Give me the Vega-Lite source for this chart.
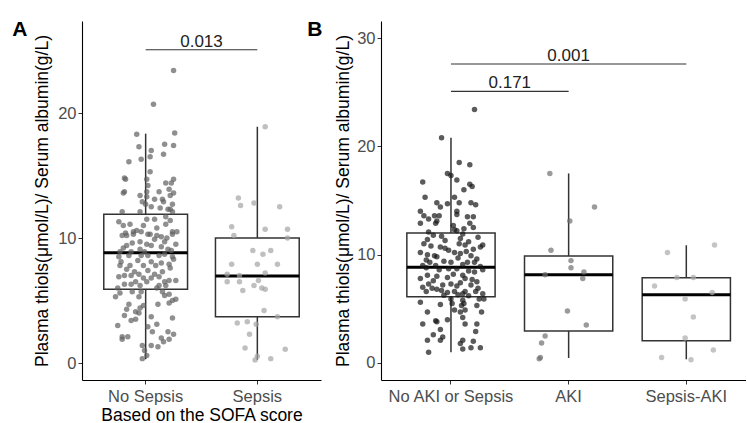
{
  "$schema": "https://vega.github.io/schema/vega-lite/v6.json",
  "padding": {"left": 12, "top": 19, "right": 0, "bottom": 0},
  "spacing": 60,
  "bounds": "flush",
  "config": {
    "view": {"stroke": null},
    "font": "Liberation Sans",
    "axis": {"grid": false, "domainColor": "#000000", "domainWidth": 1.1, "tickColor": "#333333", "tickSize": 4, "labelColor": "#4d4d4d", "labelFont": "Liberation Sans", "labelFontSize": 16.5, "labelPadding": 2, "titleFont": "Liberation Sans", "titleFontSize": 17.5, "titleFontWeight": "normal", "titleColor": "#000000"}
  },
  "resolve": {"scale": {"x": "independent", "y": "independent", "color": "independent", "xOffset": "independent"}},
  "hconcat": [
    {
      "width": 239,
      "height": 359,
      "title": {"text": "A", "orient": "left", "anchor": "end", "angle": 0, "align": "right", "baseline": "top", "offset": -9, "dy": -2, "frame": "group", "fontSize": 21, "fontWeight": "bold", "font": "Liberation Sans", "color": "#000000"},
      "resolve": {"scale": {"xOffset": "independent"}},
      "layer": [
        {
          "data": {"values": [
            {"group": "No Sepsis", "lower": 0.3, "q1": 5.9, "median": 8.83, "q3": 11.9, "upper": 18.35},
            {"group": "Sepsis", "lower": 0.25, "q1": 3.7, "median": 6.96, "q3": 10.0, "upper": 18.9}
          ]},
          "layer": [
            {
              "mark": {"type": "rule", "color": "#333333", "strokeWidth": 1.5},
              "encoding": {
                "x": {"field": "group", "type": "nominal", "title": "Based on the SOFA score", "scale": {"type": "band", "domain": ["No Sepsis", "Sepsis"], "paddingInner": 0.25, "paddingOuter": 0.195, "align": 0.5}, "axis": {"labelAngle": 0, "titlePadding": 2, "labelPadding": 4}},
                "y": {"field": "lower", "type": "quantitative", "title": "Plasma thiols(μmol/L)/ Serum albumin(g/L)", "scale": {"domain": [-1.36, 27.36], "nice": false, "zero": false}, "axis": {"values": [0, 10, 20], "titlePadding": 6}},
                "y2": {"field": "upper"}
              }
            },
            {
              "mark": {"type": "bar", "fill": "#ffffff", "stroke": "#333333", "strokeWidth": 1.5},
              "encoding": {
                "x": {"field": "group", "type": "nominal", "title": "Based on the SOFA score"},
                "y": {"field": "q1", "type": "quantitative", "title": "Plasma thiols(μmol/L)/ Serum albumin(g/L)"},
                "y2": {"field": "q3"}
              }
            },
            {
              "mark": {"type": "bar", "fill": "#000000", "stroke": "#000000", "strokeWidth": 3},
              "encoding": {
                "x": {"field": "group", "type": "nominal", "title": "Based on the SOFA score"},
                "y": {"field": "median", "type": "quantitative", "title": "Plasma thiols(μmol/L)/ Serum albumin(g/L)"},
                "y2": {"field": "median"}
              }
            }
          ]
        },
        {
          "data": {"values": [
            {"group": "No Sepsis", "j": 0.25, "v": 23.4}, {"group": "No Sepsis", "j": 0.07, "v": 20.7}, {"group": "No Sepsis", "j": -0.08, "v": 18.3}, {"group": "No Sepsis", "j": 0.26, "v": 18.4}, {"group": "No Sepsis", "j": -0.06, "v": 17.3}, {"group": "No Sepsis", "j": 0.17, "v": 17.5}, {"group": "No Sepsis", "j": 0.25, "v": 17.4}, {"group": "No Sepsis", "j": 0.05, "v": 17.0}, {"group": "No Sepsis", "j": 0.04, "v": 16.5}, {"group": "No Sepsis", "j": -0.04, "v": 16.3}, {"group": "No Sepsis", "j": 0.16, "v": 16.7}, {"group": "No Sepsis", "j": -0.15, "v": 16.1}, {"group": "No Sepsis", "j": 0.04, "v": 15.3}, {"group": "No Sepsis", "j": 0.01, "v": 14.7}, {"group": "No Sepsis", "j": -0.19, "v": 14.8}, {"group": "No Sepsis", "j": -0.18, "v": 14.7}, {"group": "No Sepsis", "j": 0.25, "v": 14.7}, {"group": "No Sepsis", "j": 0.23, "v": 14.4}, {"group": "No Sepsis", "j": 0.18, "v": 14.4}, {"group": "No Sepsis", "j": 0.02, "v": 14.2}, {"group": "No Sepsis", "j": -0.19, "v": 13.7}, {"group": "No Sepsis", "j": -0.2, "v": 13.6}, {"group": "No Sepsis", "j": 0.01, "v": 13.7}, {"group": "No Sepsis", "j": 0.12, "v": 13.7}, {"group": "No Sepsis", "j": 0.21, "v": 13.9}, {"group": "No Sepsis", "j": 0.25, "v": 13.6}, {"group": "No Sepsis", "j": -0.05, "v": 13.4}, {"group": "No Sepsis", "j": 0.01, "v": 13.3}, {"group": "No Sepsis", "j": 0.15, "v": 13.1}, {"group": "No Sepsis", "j": 0.22, "v": 13.4}, {"group": "No Sepsis", "j": -0.03, "v": 12.9}, {"group": "No Sepsis", "j": 0.08, "v": 13.1}, {"group": "No Sepsis", "j": 0.16, "v": 12.9}, {"group": "No Sepsis", "j": 0.0, "v": 12.7}, {"group": "No Sepsis", "j": 0.05, "v": 12.5}, {"group": "No Sepsis", "j": 0.13, "v": 12.4}, {"group": "No Sepsis", "j": 0.2, "v": 12.3}, {"group": "No Sepsis", "j": 0.24, "v": 12.7}, {"group": "No Sepsis", "j": 0.22, "v": 12.3}, {"group": "No Sepsis", "j": -0.21, "v": 12.1}, {"group": "No Sepsis", "j": -0.05, "v": 12.1}, {"group": "No Sepsis", "j": 0.24, "v": 12.1},
            {"group": "No Sepsis", "j": 0.08, "v": 11.5}, {"group": "No Sepsis", "j": 0.01, "v": 11.5}, {"group": "No Sepsis", "j": 0.18, "v": 11.7}, {"group": "No Sepsis", "j": -0.24, "v": 11.3}, {"group": "No Sepsis", "j": -0.14, "v": 11.1}, {"group": "No Sepsis", "j": -0.02, "v": 11.0}, {"group": "No Sepsis", "j": -0.18, "v": 10.4}, {"group": "No Sepsis", "j": -0.11, "v": 10.5}, {"group": "No Sepsis", "j": -0.04, "v": 10.5}, {"group": "No Sepsis", "j": 0.24, "v": 10.5}, {"group": "No Sepsis", "j": 0.28, "v": 10.5}, {"group": "No Sepsis", "j": 0.04, "v": 10.3}, {"group": "No Sepsis", "j": 0.14, "v": 10.1}, {"group": "No Sepsis", "j": -0.2, "v": 11.0}, {"group": "No Sepsis", "j": 0.18, "v": 11.1}, {"group": "No Sepsis", "j": 0.22, "v": 11.4}, {"group": "No Sepsis", "j": -0.21, "v": 10.2}, {"group": "No Sepsis", "j": -0.17, "v": 10.2}, {"group": "No Sepsis", "j": -0.11, "v": 10.3}, {"group": "No Sepsis", "j": 0.02, "v": 10.3}, {"group": "No Sepsis", "j": 0.1, "v": 10.2}, {"group": "No Sepsis", "j": 0.19, "v": 10.0}, {"group": "No Sepsis", "j": 0.24, "v": 10.3}, {"group": "No Sepsis", "j": -0.05, "v": 9.7}, {"group": "No Sepsis", "j": 0.01, "v": 9.5}, {"group": "No Sepsis", "j": 0.27, "v": 9.5}, {"group": "No Sepsis", "j": -0.17, "v": 9.4}, {"group": "No Sepsis", "j": -0.05, "v": 9.1}, {"group": "No Sepsis", "j": 0.05, "v": 9.4}, {"group": "No Sepsis", "j": 0.14, "v": 9.3}, {"group": "No Sepsis", "j": 0.2, "v": 9.1}, {"group": "No Sepsis", "j": -0.23, "v": 8.9}, {"group": "No Sepsis", "j": -0.13, "v": 8.9}, {"group": "No Sepsis", "j": -0.01, "v": 8.9}, {"group": "No Sepsis", "j": 0.1, "v": 10.8}, {"group": "No Sepsis", "j": -0.08, "v": 10.6}, {"group": "No Sepsis", "j": 0.08, "v": 9.9}, {"group": "No Sepsis", "j": 0.17, "v": 9.7}, {"group": "No Sepsis", "j": -0.2, "v": 9.2}, {"group": "No Sepsis", "j": 0.23, "v": 9.0}, {"group": "No Sepsis", "j": -0.12, "v": 9.6},
            {"group": "No Sepsis", "j": -0.24, "v": 8.5}, {"group": "No Sepsis", "j": -0.15, "v": 8.6}, {"group": "No Sepsis", "j": -0.04, "v": 8.6}, {"group": "No Sepsis", "j": 0.02, "v": 8.6}, {"group": "No Sepsis", "j": 0.12, "v": 8.6}, {"group": "No Sepsis", "j": 0.17, "v": 8.7}, {"group": "No Sepsis", "j": 0.24, "v": 8.5}, {"group": "No Sepsis", "j": -0.22, "v": 8.1}, {"group": "No Sepsis", "j": -0.07, "v": 8.2}, {"group": "No Sepsis", "j": 0.05, "v": 8.1}, {"group": "No Sepsis", "j": 0.14, "v": 8.0}, {"group": "No Sepsis", "j": 0.21, "v": 7.9}, {"group": "No Sepsis", "j": -0.23, "v": 7.8}, {"group": "No Sepsis", "j": -0.14, "v": 7.8}, {"group": "No Sepsis", "j": -0.02, "v": 7.8}, {"group": "No Sepsis", "j": 0.09, "v": 7.8}, {"group": "No Sepsis", "j": 0.22, "v": 7.6}, {"group": "No Sepsis", "j": -0.1, "v": 7.3}, {"group": "No Sepsis", "j": -0.06, "v": 7.1}, {"group": "No Sepsis", "j": 0.08, "v": 7.1}, {"group": "No Sepsis", "j": 0.15, "v": 7.3}, {"group": "No Sepsis", "j": -0.24, "v": 6.9}, {"group": "No Sepsis", "j": -0.19, "v": 7.0}, {"group": "No Sepsis", "j": -0.13, "v": 7.0}, {"group": "No Sepsis", "j": 0.12, "v": 6.9}, {"group": "No Sepsis", "j": 0.21, "v": 6.6}, {"group": "No Sepsis", "j": 0.27, "v": 6.6}, {"group": "No Sepsis", "j": -0.19, "v": 6.3}, {"group": "No Sepsis", "j": -0.13, "v": 6.3}, {"group": "No Sepsis", "j": 0.01, "v": 6.5}, {"group": "No Sepsis", "j": 0.12, "v": 6.2}, {"group": "No Sepsis", "j": 0.18, "v": 6.2}, {"group": "No Sepsis", "j": -0.05, "v": 6.2}, {"group": "No Sepsis", "j": 0.1, "v": 6.0}, {"group": "No Sepsis", "j": -0.25, "v": 6.0}, {"group": "No Sepsis", "j": -0.09, "v": 6.5}, {"group": "No Sepsis", "j": -0.02, "v": 6.8}, {"group": "No Sepsis", "j": 0.17, "v": 6.5}, {"group": "No Sepsis", "j": 0.25, "v": 8.3}, {"group": "No Sepsis", "j": -0.17, "v": 7.5}, {"group": "No Sepsis", "j": 0.02, "v": 7.4}, {"group": "No Sepsis", "j": 0.05, "v": 6.8},
            {"group": "No Sepsis", "j": -0.23, "v": 5.6}, {"group": "No Sepsis", "j": -0.12, "v": 5.7}, {"group": "No Sepsis", "j": -0.04, "v": 5.7}, {"group": "No Sepsis", "j": 0.15, "v": 5.7}, {"group": "No Sepsis", "j": 0.21, "v": 5.5}, {"group": "No Sepsis", "j": -0.27, "v": 5.3}, {"group": "No Sepsis", "j": -0.06, "v": 5.3}, {"group": "No Sepsis", "j": 0.17, "v": 5.4}, {"group": "No Sepsis", "j": 0.27, "v": 5.1}, {"group": "No Sepsis", "j": 0.24, "v": 5.0}, {"group": "No Sepsis", "j": 0.21, "v": 4.8}, {"group": "No Sepsis", "j": -0.15, "v": 4.7}, {"group": "No Sepsis", "j": 0.11, "v": 4.7}, {"group": "No Sepsis", "j": -0.17, "v": 4.3}, {"group": "No Sepsis", "j": -0.05, "v": 4.4}, {"group": "No Sepsis", "j": -0.09, "v": 4.1}, {"group": "No Sepsis", "j": -0.06, "v": 4.0}, {"group": "No Sepsis", "j": -0.19, "v": 3.8}, {"group": "No Sepsis", "j": 0.05, "v": 3.7}, {"group": "No Sepsis", "j": 0.24, "v": 3.6}, {"group": "No Sepsis", "j": -0.09, "v": 3.5}, {"group": "No Sepsis", "j": 0.1, "v": 3.1}, {"group": "No Sepsis", "j": -0.25, "v": 3.0}, {"group": "No Sepsis", "j": 0.02, "v": 2.9}, {"group": "No Sepsis", "j": 0.06, "v": 2.5}, {"group": "No Sepsis", "j": 0.2, "v": 2.5}, {"group": "No Sepsis", "j": 0.14, "v": 2.0}, {"group": "No Sepsis", "j": -0.21, "v": 2.1}, {"group": "No Sepsis", "j": -0.16, "v": 2.1}, {"group": "No Sepsis", "j": -0.21, "v": 1.9}, {"group": "No Sepsis", "j": 0.16, "v": 1.7}, {"group": "No Sepsis", "j": -0.03, "v": 1.4}, {"group": "No Sepsis", "j": 0.05, "v": 1.4}, {"group": "No Sepsis", "j": 0.11, "v": 1.3}, {"group": "No Sepsis", "j": -0.01, "v": 1.0}, {"group": "No Sepsis", "j": 0.01, "v": 0.6}, {"group": "No Sepsis", "j": -0.03, "v": 0.35}, {"group": "No Sepsis", "j": -0.13, "v": 3.4}, {"group": "No Sepsis", "j": -0.02, "v": 4.6}, {"group": "No Sepsis", "j": 0.25, "v": 2.3}, {"group": "No Sepsis", "j": 0.21, "v": 1.9},
            {"group": "Sepsis", "j": 0.07, "v": 18.9}, {"group": "Sepsis", "j": -0.17, "v": 13.2}, {"group": "Sepsis", "j": -0.15, "v": 12.6}, {"group": "Sepsis", "j": -0.03, "v": 12.8}, {"group": "Sepsis", "j": 0.2, "v": 12.5}, {"group": "Sepsis", "j": -0.23, "v": 10.9}, {"group": "Sepsis", "j": 0.07, "v": 10.7}, {"group": "Sepsis", "j": -0.21, "v": 10.2}, {"group": "Sepsis", "j": 0.27, "v": 10.7}, {"group": "Sepsis", "j": 0.27, "v": 10.0}, {"group": "Sepsis", "j": -0.04, "v": 9.0}, {"group": "Sepsis", "j": 0.05, "v": 8.7}, {"group": "Sepsis", "j": 0.12, "v": 9.0}, {"group": "Sepsis", "j": -0.23, "v": 7.9}, {"group": "Sepsis", "j": 0.0, "v": 7.9}, {"group": "Sepsis", "j": 0.18, "v": 7.9}, {"group": "Sepsis", "j": -0.27, "v": 7.1}, {"group": "Sepsis", "j": -0.16, "v": 7.0}, {"group": "Sepsis", "j": 0.07, "v": 7.2}, {"group": "Sepsis", "j": -0.27, "v": 6.5}, {"group": "Sepsis", "j": -0.16, "v": 6.5}, {"group": "Sepsis", "j": 0.01, "v": 6.6}, {"group": "Sepsis", "j": -0.03, "v": 6.2}, {"group": "Sepsis", "j": 0.04, "v": 6.0}, {"group": "Sepsis", "j": 0.07, "v": 5.9}, {"group": "Sepsis", "j": -0.13, "v": 5.8}, {"group": "Sepsis", "j": 0.06, "v": 4.2}, {"group": "Sepsis", "j": 0.18, "v": 3.7}, {"group": "Sepsis", "j": -0.18, "v": 3.2}, {"group": "Sepsis", "j": -0.09, "v": 3.3}, {"group": "Sepsis", "j": -0.01, "v": 3.1}, {"group": "Sepsis", "j": -0.07, "v": 2.3}, {"group": "Sepsis", "j": -0.11, "v": 1.2}, {"group": "Sepsis", "j": 0.25, "v": 1.1}, {"group": "Sepsis", "j": 0.0, "v": 0.55}, {"group": "Sepsis", "j": -0.02, "v": 0.25}, {"group": "Sepsis", "j": 0.12, "v": 0.35}
          ]},
          "mark": {"type": "circle", "size": 30, "opacity": 0.7},
          "encoding": {
            "x": {"field": "group", "type": "nominal", "title": "Based on the SOFA score"},
            "xOffset": {"field": "j", "type": "quantitative", "scale": {"domain": [-0.375, 0.375], "nice": false, "zero": false}},
            "y": {"field": "v", "type": "quantitative", "title": "Plasma thiols(μmol/L)/ Serum albumin(g/L)"},
            "color": {"field": "group", "type": "nominal", "scale": {"domain": ["No Sepsis", "Sepsis"], "range": ["#5f5f5f", "#a4a4a4"]}, "legend": null}
          }
        },
        {
          "data": {"values": [
            {"from": "No Sepsis", "to": "Sepsis", "y": 25.06, "label": "0.013", "off": 0.5}
          ]},
          "layer": [
            {
              "mark": {"type": "rule", "color": "#333333", "strokeWidth": 1.2},
              "encoding": {
                "x": {"field": "from", "type": "nominal", "title": "Based on the SOFA score"},
                "x2": {"field": "to"},
                "y": {"field": "y", "type": "quantitative", "title": "Plasma thiols(μmol/L)/ Serum albumin(g/L)"}
              }
            },
            {
              "mark": {"type": "text", "fontSize": 17, "font": "Liberation Sans", "color": "#222222", "baseline": "alphabetic", "dy": -3},
              "encoding": {
                "x": {"field": "from", "type": "nominal", "title": "Based on the SOFA score"},
                "xOffset": {"field": "off", "type": "quantitative", "scale": {"domain": [-0.375, 0.375], "nice": false, "zero": false}},
                "y": {"field": "y", "type": "quantitative", "title": "Plasma thiols(μmol/L)/ Serum albumin(g/L)"},
                "text": {"field": "label"}
              }
            }
          ]
        }
      ]
    },
    {
      "width": 365,
      "height": 359,
      "title": {"text": "B", "orient": "left", "anchor": "end", "angle": 0, "align": "right", "baseline": "top", "offset": -3, "dy": -2, "frame": "group", "fontSize": 21, "fontWeight": "bold", "font": "Liberation Sans", "color": "#000000"},
      "resolve": {"scale": {"xOffset": "independent"}},
      "layer": [
        {
          "data": {"values": [
            {"group": "No AKI or Sepsis", "lower": 1.0, "q1": 6.12, "median": 8.83, "q3": 12.0, "upper": 20.8},
            {"group": "AKI", "lower": 0.46, "q1": 2.95, "median": 8.15, "q3": 9.88, "upper": 17.5},
            {"group": "Sepsis-AKI", "lower": 0.34, "q1": 2.06, "median": 6.31, "q3": 7.88, "upper": 10.87}
          ]},
          "layer": [
            {
              "mark": {"type": "rule", "color": "#333333", "strokeWidth": 1.5},
              "encoding": {
                "x": {"field": "group", "type": "nominal", "title": null, "scale": {"type": "band", "domain": ["No AKI or Sepsis", "AKI", "Sepsis-AKI"], "paddingInner": 0.25, "paddingOuter": 0.176, "align": 0.624}, "axis": {"labelAngle": 0, "labelPadding": 4}},
                "y": {"field": "lower", "type": "quantitative", "title": "Plasma thiols(μmol/L)/ Serum albumin(g/L)", "scale": {"domain": [-1.57, 31.57], "nice": false, "zero": false}, "axis": {"values": [0, 10, 20, 30], "titlePadding": 4}},
                "y2": {"field": "upper"}
              }
            },
            {
              "mark": {"type": "bar", "fill": "#ffffff", "stroke": "#333333", "strokeWidth": 1.5},
              "encoding": {
                "x": {"field": "group", "type": "nominal", "title": null},
                "y": {"field": "q1", "type": "quantitative", "title": "Plasma thiols(μmol/L)/ Serum albumin(g/L)"},
                "y2": {"field": "q3"}
              }
            },
            {
              "mark": {"type": "bar", "fill": "#000000", "stroke": "#000000", "strokeWidth": 3},
              "encoding": {
                "x": {"field": "group", "type": "nominal", "title": null},
                "y": {"field": "median", "type": "quantitative", "title": "Plasma thiols(μmol/L)/ Serum albumin(g/L)"},
                "y2": {"field": "median"}
              }
            }
          ]
        },
        {
          "data": {"values": [
            {"group": "No AKI or Sepsis", "j": 0.2, "v": 23.4}, {"group": "No AKI or Sepsis", "j": -0.08, "v": 20.8}, {"group": "No AKI or Sepsis", "j": 0.07, "v": 18.5}, {"group": "No AKI or Sepsis", "j": 0.16, "v": 18.3}, {"group": "No AKI or Sepsis", "j": -0.03, "v": 17.5}, {"group": "No AKI or Sepsis", "j": 0.0, "v": 17.3}, {"group": "No AKI or Sepsis", "j": 0.05, "v": 16.9}, {"group": "No AKI or Sepsis", "j": -0.24, "v": 16.7}, {"group": "No AKI or Sepsis", "j": 0.16, "v": 16.5}, {"group": "No AKI or Sepsis", "j": 0.18, "v": 16.3}, {"group": "No AKI or Sepsis", "j": 0.11, "v": 16.0}, {"group": "No AKI or Sepsis", "j": -0.22, "v": 15.3}, {"group": "No AKI or Sepsis", "j": 0.03, "v": 15.3}, {"group": "No AKI or Sepsis", "j": -0.12, "v": 14.8}, {"group": "No AKI or Sepsis", "j": -0.03, "v": 14.7}, {"group": "No AKI or Sepsis", "j": 0.07, "v": 14.8}, {"group": "No AKI or Sepsis", "j": 0.17, "v": 14.8}, {"group": "No AKI or Sepsis", "j": 0.21, "v": 14.6}, {"group": "No AKI or Sepsis", "j": -0.09, "v": 14.4}, {"group": "No AKI or Sepsis", "j": -0.26, "v": 14.0}, {"group": "No AKI or Sepsis", "j": 0.05, "v": 14.0}, {"group": "No AKI or Sepsis", "j": -0.23, "v": 13.6}, {"group": "No AKI or Sepsis", "j": -0.19, "v": 13.3}, {"group": "No AKI or Sepsis", "j": -0.14, "v": 13.6}, {"group": "No AKI or Sepsis", "j": -0.1, "v": 13.6}, {"group": "No AKI or Sepsis", "j": 0.14, "v": 13.5}, {"group": "No AKI or Sepsis", "j": 0.19, "v": 13.5}, {"group": "No AKI or Sepsis", "j": -0.12, "v": 13.1}, {"group": "No AKI or Sepsis", "j": 0.05, "v": 13.7}, {"group": "No AKI or Sepsis", "j": -0.26, "v": 12.9}, {"group": "No AKI or Sepsis", "j": -0.13, "v": 12.9}, {"group": "No AKI or Sepsis", "j": 0.02, "v": 12.7}, {"group": "No AKI or Sepsis", "j": 0.16, "v": 12.9}, {"group": "No AKI or Sepsis", "j": 0.19, "v": 12.5}, {"group": "No AKI or Sepsis", "j": 0.03, "v": 12.3}, {"group": "No AKI or Sepsis", "j": 0.11, "v": 12.4}, {"group": "No AKI or Sepsis", "j": -0.19, "v": 12.1}, {"group": "No AKI or Sepsis", "j": 0.05, "v": 12.2},
            {"group": "No AKI or Sepsis", "j": -0.15, "v": 11.8}, {"group": "No AKI or Sepsis", "j": 0.08, "v": 11.5}, {"group": "No AKI or Sepsis", "j": 0.23, "v": 11.6}, {"group": "No AKI or Sepsis", "j": -0.05, "v": 11.3}, {"group": "No AKI or Sepsis", "j": 0.15, "v": 11.2}, {"group": "No AKI or Sepsis", "j": -0.23, "v": 11.0}, {"group": "No AKI or Sepsis", "j": -0.09, "v": 10.7}, {"group": "No AKI or Sepsis", "j": -0.05, "v": 10.6}, {"group": "No AKI or Sepsis", "j": 0.07, "v": 11.0}, {"group": "No AKI or Sepsis", "j": 0.12, "v": 10.9}, {"group": "No AKI or Sepsis", "j": 0.25, "v": 10.7}, {"group": "No AKI or Sepsis", "j": 0.27, "v": 10.9}, {"group": "No AKI or Sepsis", "j": -0.26, "v": 10.2}, {"group": "No AKI or Sepsis", "j": -0.2, "v": 10.0}, {"group": "No AKI or Sepsis", "j": -0.14, "v": 9.9}, {"group": "No AKI or Sepsis", "j": -0.12, "v": 9.8}, {"group": "No AKI or Sepsis", "j": 0.03, "v": 10.2}, {"group": "No AKI or Sepsis", "j": 0.08, "v": 10.1}, {"group": "No AKI or Sepsis", "j": 0.17, "v": 9.9}, {"group": "No AKI or Sepsis", "j": -0.21, "v": 9.5}, {"group": "No AKI or Sepsis", "j": -0.18, "v": 9.3}, {"group": "No AKI or Sepsis", "j": -0.06, "v": 9.4}, {"group": "No AKI or Sepsis", "j": 0.0, "v": 9.3}, {"group": "No AKI or Sepsis", "j": 0.14, "v": 9.3}, {"group": "No AKI or Sepsis", "j": 0.2, "v": 9.3}, {"group": "No AKI or Sepsis", "j": -0.13, "v": 9.0}, {"group": "No AKI or Sepsis", "j": 0.25, "v": 8.9}, {"group": "No AKI or Sepsis", "j": 0.1, "v": 11.9}, {"group": "No AKI or Sepsis", "j": -0.2, "v": 11.4}, {"group": "No AKI or Sepsis", "j": 0.19, "v": 10.5}, {"group": "No AKI or Sepsis", "j": -0.02, "v": 10.4}, {"group": "No AKI or Sepsis", "j": -0.17, "v": 10.8}, {"group": "No AKI or Sepsis", "j": 0.06, "v": 9.7}, {"group": "No AKI or Sepsis", "j": 0.22, "v": 9.6}, {"group": "No AKI or Sepsis", "j": 0.1, "v": 9.1}, {"group": "No AKI or Sepsis", "j": -0.24, "v": 9.0}, {"group": "No AKI or Sepsis", "j": -0.08, "v": 11.7}, {"group": "No AKI or Sepsis", "j": 0.13, "v": 10.3},
            {"group": "No AKI or Sepsis", "j": -0.21, "v": 8.8}, {"group": "No AKI or Sepsis", "j": -0.1, "v": 8.6}, {"group": "No AKI or Sepsis", "j": 0.05, "v": 8.7}, {"group": "No AKI or Sepsis", "j": 0.27, "v": 8.6}, {"group": "No AKI or Sepsis", "j": -0.26, "v": 7.8}, {"group": "No AKI or Sepsis", "j": -0.2, "v": 8.1}, {"group": "No AKI or Sepsis", "j": -0.03, "v": 7.9}, {"group": "No AKI or Sepsis", "j": 0.1, "v": 8.1}, {"group": "No AKI or Sepsis", "j": 0.12, "v": 7.8}, {"group": "No AKI or Sepsis", "j": 0.18, "v": 7.7}, {"group": "No AKI or Sepsis", "j": -0.19, "v": 7.3}, {"group": "No AKI or Sepsis", "j": -0.07, "v": 7.2}, {"group": "No AKI or Sepsis", "j": 0.0, "v": 7.3}, {"group": "No AKI or Sepsis", "j": 0.05, "v": 7.1}, {"group": "No AKI or Sepsis", "j": 0.17, "v": 7.2}, {"group": "No AKI or Sepsis", "j": -0.21, "v": 6.6}, {"group": "No AKI or Sepsis", "j": -0.16, "v": 6.9}, {"group": "No AKI or Sepsis", "j": -0.12, "v": 6.8}, {"group": "No AKI or Sepsis", "j": -0.03, "v": 6.5}, {"group": "No AKI or Sepsis", "j": 0.03, "v": 6.6}, {"group": "No AKI or Sepsis", "j": 0.1, "v": 6.4}, {"group": "No AKI or Sepsis", "j": 0.12, "v": 6.6}, {"group": "No AKI or Sepsis", "j": 0.21, "v": 6.6}, {"group": "No AKI or Sepsis", "j": 0.27, "v": 6.4}, {"group": "No AKI or Sepsis", "j": -0.06, "v": 6.25}, {"group": "No AKI or Sepsis", "j": 0.15, "v": 6.2}, {"group": "No AKI or Sepsis", "j": 0.2, "v": 8.4}, {"group": "No AKI or Sepsis", "j": -0.12, "v": 8.0}, {"group": "No AKI or Sepsis", "j": 0.22, "v": 7.5}, {"group": "No AKI or Sepsis", "j": -0.24, "v": 7.0}, {"group": "No AKI or Sepsis", "j": 0.15, "v": 8.5}, {"group": "No AKI or Sepsis", "j": 0.02, "v": 8.2}, {"group": "No AKI or Sepsis", "j": -0.15, "v": 7.6}, {"group": "No AKI or Sepsis", "j": 0.08, "v": 7.4}, {"group": "No AKI or Sepsis", "j": 0.23, "v": 6.9}, {"group": "No AKI or Sepsis", "j": -0.08, "v": 6.7}, {"group": "No AKI or Sepsis", "j": 0.06, "v": 6.3}, {"group": "No AKI or Sepsis", "j": -0.02, "v": 8.7},
            {"group": "No AKI or Sepsis", "j": 0.0, "v": 5.9}, {"group": "No AKI or Sepsis", "j": 0.1, "v": 5.8}, {"group": "No AKI or Sepsis", "j": 0.24, "v": 5.9}, {"group": "No AKI or Sepsis", "j": 0.28, "v": 5.9}, {"group": "No AKI or Sepsis", "j": -0.26, "v": 5.6}, {"group": "No AKI or Sepsis", "j": -0.09, "v": 5.4}, {"group": "No AKI or Sepsis", "j": 0.01, "v": 5.5}, {"group": "No AKI or Sepsis", "j": 0.09, "v": 5.3}, {"group": "No AKI or Sepsis", "j": 0.11, "v": 5.5}, {"group": "No AKI or Sepsis", "j": 0.22, "v": 5.3}, {"group": "No AKI or Sepsis", "j": 0.03, "v": 4.9}, {"group": "No AKI or Sepsis", "j": 0.08, "v": 4.7}, {"group": "No AKI or Sepsis", "j": 0.12, "v": 4.9}, {"group": "No AKI or Sepsis", "j": -0.2, "v": 4.7}, {"group": "No AKI or Sepsis", "j": 0.26, "v": 4.7}, {"group": "No AKI or Sepsis", "j": 0.1, "v": 4.2}, {"group": "No AKI or Sepsis", "j": -0.03, "v": 4.0}, {"group": "No AKI or Sepsis", "j": -0.13, "v": 3.9}, {"group": "No AKI or Sepsis", "j": -0.12, "v": 3.8}, {"group": "No AKI or Sepsis", "j": -0.24, "v": 3.6}, {"group": "No AKI or Sepsis", "j": 0.12, "v": 3.6}, {"group": "No AKI or Sepsis", "j": 0.22, "v": 3.6}, {"group": "No AKI or Sepsis", "j": -0.09, "v": 3.1}, {"group": "No AKI or Sepsis", "j": 0.21, "v": 2.9}, {"group": "No AKI or Sepsis", "j": -0.07, "v": 2.4}, {"group": "No AKI or Sepsis", "j": -0.09, "v": 2.1}, {"group": "No AKI or Sepsis", "j": -0.2, "v": 2.1}, {"group": "No AKI or Sepsis", "j": 0.1, "v": 2.1}, {"group": "No AKI or Sepsis", "j": 0.08, "v": 1.8}, {"group": "No AKI or Sepsis", "j": 0.17, "v": 1.4}, {"group": "No AKI or Sepsis", "j": 0.25, "v": 1.4}, {"group": "No AKI or Sepsis", "j": 0.1, "v": 1.3}, {"group": "No AKI or Sepsis", "j": -0.19, "v": 1.0}, {"group": "No AKI or Sepsis", "j": -0.15, "v": 2.6}, {"group": "No AKI or Sepsis", "j": 0.19, "v": 2.0},
            {"group": "AKI", "j": -0.16, "v": 17.5}, {"group": "AKI", "j": 0.22, "v": 14.4}, {"group": "AKI", "j": 0.01, "v": 13.1}, {"group": "AKI", "j": -0.15, "v": 10.4}, {"group": "AKI", "j": 0.02, "v": 9.45}, {"group": "AKI", "j": 0.02, "v": 8.8}, {"group": "AKI", "j": 0.13, "v": 8.4}, {"group": "AKI", "j": 0.12, "v": 7.8}, {"group": "AKI", "j": -0.2, "v": 8.15}, {"group": "AKI", "j": -0.01, "v": 4.8}, {"group": "AKI", "j": 0.15, "v": 3.5}, {"group": "AKI", "j": -0.2, "v": 2.5}, {"group": "AKI", "j": -0.23, "v": 1.85}, {"group": "AKI", "j": -0.24, "v": 0.5}, {"group": "AKI", "j": -0.25, "v": 0.4},
            {"group": "Sepsis-AKI", "j": -0.16, "v": 10.2}, {"group": "Sepsis-AKI", "j": 0.24, "v": 10.9}, {"group": "Sepsis-AKI", "j": -0.08, "v": 7.9}, {"group": "Sepsis-AKI", "j": 0.06, "v": 7.9}, {"group": "Sepsis-AKI", "j": -0.27, "v": 7.1}, {"group": "Sepsis-AKI", "j": 0.22, "v": 6.5}, {"group": "Sepsis-AKI", "j": -0.01, "v": 5.9}, {"group": "Sepsis-AKI", "j": 0.06, "v": 4.25}, {"group": "Sepsis-AKI", "j": -0.01, "v": 2.3}, {"group": "Sepsis-AKI", "j": 0.23, "v": 1.2}, {"group": "Sepsis-AKI", "j": -0.21, "v": 0.5}, {"group": "Sepsis-AKI", "j": 0.04, "v": 0.3}
          ]},
          "mark": {"type": "circle", "size": 30, "opacity": 0.7},
          "encoding": {
            "x": {"field": "group", "type": "nominal", "title": null},
            "xOffset": {"field": "j", "type": "quantitative", "scale": {"domain": [-0.375, 0.375], "nice": false, "zero": false}},
            "y": {"field": "v", "type": "quantitative", "title": "Plasma thiols(μmol/L)/ Serum albumin(g/L)"},
            "color": {"field": "group", "type": "nominal", "scale": {"domain": ["No AKI or Sepsis", "AKI", "Sepsis-AKI"], "range": ["#151515", "#6f6f6f", "#ababab"]}, "legend": null}
          }
        },
        {
          "data": {"values": [
            {"from": "No AKI or Sepsis", "to": "AKI", "y": 25.08, "label": "0.171", "off": 0.5},
            {"from": "No AKI or Sepsis", "to": "Sepsis-AKI", "y": 27.6, "label": "0.001", "off": 1.0}
          ]},
          "layer": [
            {
              "mark": {"type": "rule", "color": "#333333", "strokeWidth": 1.2},
              "encoding": {
                "x": {"field": "from", "type": "nominal", "title": null},
                "x2": {"field": "to"},
                "y": {"field": "y", "type": "quantitative", "title": "Plasma thiols(μmol/L)/ Serum albumin(g/L)"}
              }
            },
            {
              "mark": {"type": "text", "fontSize": 17, "font": "Liberation Sans", "color": "#222222", "baseline": "alphabetic", "dy": -3},
              "encoding": {
                "x": {"field": "from", "type": "nominal", "title": null},
                "xOffset": {"field": "off", "type": "quantitative", "scale": {"domain": [-0.375, 0.375], "nice": false, "zero": false}},
                "y": {"field": "y", "type": "quantitative", "title": "Plasma thiols(μmol/L)/ Serum albumin(g/L)"},
                "text": {"field": "label"}
              }
            }
          ]
        }
      ]
    }
  ]
}
